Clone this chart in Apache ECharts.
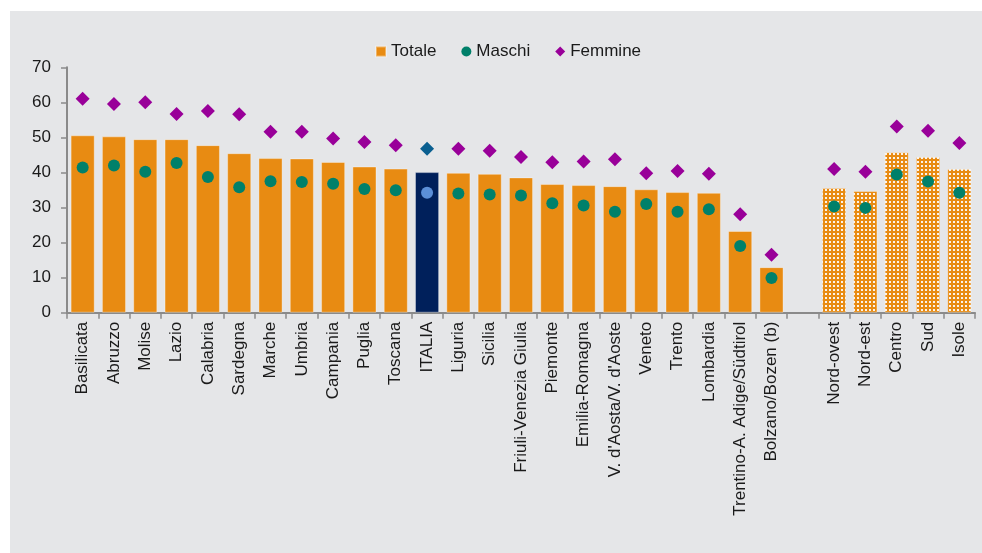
<!DOCTYPE html>
<html>
<head>
<meta charset="utf-8">
<script src="https://cdn.jsdelivr.net/npm/echarts@6/dist/echarts.min.js"></script>
<style>
  html, body { margin: 0; padding: 0; background: #ffffff; }
  #panel { position: absolute; left: 10px; top: 11px; width: 972px; height: 542px; background: #e5e6e8; }
  #chart { position: absolute; left: 0; top: 0; width: 982px; height: 553px; }
</style>
</head>
<body>
<div id="panel"></div>
<div id="chart"></div>
<script>
const categories = ["Basilicata","Abruzzo","Molise","Lazio","Calabria","Sardegna","Marche","Umbria","Campania","Puglia","Toscana","ITALIA","Liguria","Sicilia","Friuli-Venezia Giulia","Piemonte","Emilia-Romagna","V. d'Aosta/V. d'Aoste","Veneto","Trento","Lombardia","Trentino-A. Adige/Südtirol","Bolzano/Bozen (b)","","Nord-ovest","Nord-est","Centro","Sud","Isole"];
const totale  = [50.6,50.3,49.5,49.5,47.8,45.5,44.1,44.0,43.0,41.7,41.1,40.1,39.9,39.6,38.6,36.7,36.4,36.1,35.2,34.4,34.2,23.3,13.0,null,35.6,34.7,45.8,44.4,41.0];
const maschi  = [41.4,42.0,40.2,42.7,38.7,35.8,37.5,37.3,36.8,35.3,34.9,34.2,34.0,33.7,33.4,31.2,30.6,28.8,31.0,28.8,29.5,19.0,9.9,null,30.3,29.9,39.4,37.4,34.2];
const femmine = [61.0,59.5,60.0,56.7,57.5,56.6,51.6,51.6,49.7,48.7,47.8,46.8,46.8,46.2,44.4,42.9,43.1,43.8,39.8,40.4,39.6,28.1,16.5,null,41.0,40.2,53.1,51.9,48.4];
const italiaName = "ITALIA";
const macroNames = ["Nord-ovest","Nord-est","Centro","Sud","Isole"];

const ORANGE = '#e88b12', GREEN = '#00806a', PURPLE = '#990099';
const NAVY = '#00205b', LIGHTBLUE = '#5b8fd8', DARKBLUE = '#0a5f90';

function pattern(base, hole) {
  const c = document.createElement('canvas');
  c.width = 4; c.height = 4;
  const ctx = c.getContext('2d');
  ctx.fillStyle = base; ctx.fillRect(0, 0, 4, 4);
  ctx.fillStyle = hole; ctx.fillRect(1, 1, 2, 2);
  return { image: c, repeat: 'repeat' };
}
function styled(values, italia, macroFn) {
  return values.map((v, i) => {
    const name = categories[i];
    if (name === italiaName) return { value: v, itemStyle: { color: italia } };
    if (macroNames.includes(name)) return { value: v, itemStyle: { color: macroFn() } };
    return v;
  });
}

const chart = echarts.init(document.getElementById('chart'), null, { renderer: 'canvas' });
const font = 'Liberation Sans, Arial, sans-serif';
chart.setOption({
  backgroundColor: 'transparent',
  textStyle: { fontFamily: font },
  animation: false,
  legend: {
    left: 370, top: 38,
    itemWidth: 10, itemHeight: 10, itemGap: 25,
    textStyle: { fontSize: 17, color: '#1a1a1a', fontFamily: font },
    data: [
      { name: 'Totale', icon: 'rect' },
      { name: 'Maschi', icon: 'circle' },
      { name: 'Femmine', icon: 'diamond' }
    ]
  },
  grid: { left: 67, right: 7, top: 67.3, bottom: 240.3, containLabel: false },
  xAxis: {
    type: 'category',
    data: categories,
    axisLine: { lineStyle: { color: '#8a8a8a', width: 2 } },
    axisTick: { show: true, interval: 0, length: 6, lineStyle: { color: '#8a8a8a', width: 1.5 } },
    axisLabel: { interval: 0, rotate: 90, margin: 9, fontSize: 17, color: '#1a1a1a', fontFamily: font }
  },
  yAxis: {
    type: 'value', min: 0, max: 70, interval: 10,
    splitLine: { show: false },
    axisLine: { show: true, lineStyle: { color: '#8a8a8a', width: 2 } },
    axisTick: { show: true, length: 6, lineStyle: { color: '#8a8a8a', width: 1.5 } },
    axisLabel: { fontSize: 17, color: '#1a1a1a', margin: 16, fontFamily: font }
  },
  series: [
    {
      name: 'Totale', type: 'bar',
      barCategoryGap: '23%',
      itemStyle: { color: ORANGE, borderColor: 'rgba(255,255,255,0.35)', borderWidth: 1 },
      data: styled(totale, NAVY, () => pattern(ORANGE, '#fbf3ea')),
      z: 2
    },
    {
      name: 'Maschi', type: 'scatter', symbol: 'circle', symbolSize: 12,
      itemStyle: { color: GREEN, opacity: 1 },
      data: styled(maschi, LIGHTBLUE, () => pattern(GREEN, '#ffffff')),
      z: 3
    },
    {
      name: 'Femmine', type: 'scatter', symbol: 'diamond', symbolSize: 14,
      itemStyle: { color: PURPLE, opacity: 1 },
      data: styled(femmine, DARKBLUE, () => pattern(PURPLE, '#ffffff')),
      z: 3
    }
  ]
});
</script>
</body>
</html>
